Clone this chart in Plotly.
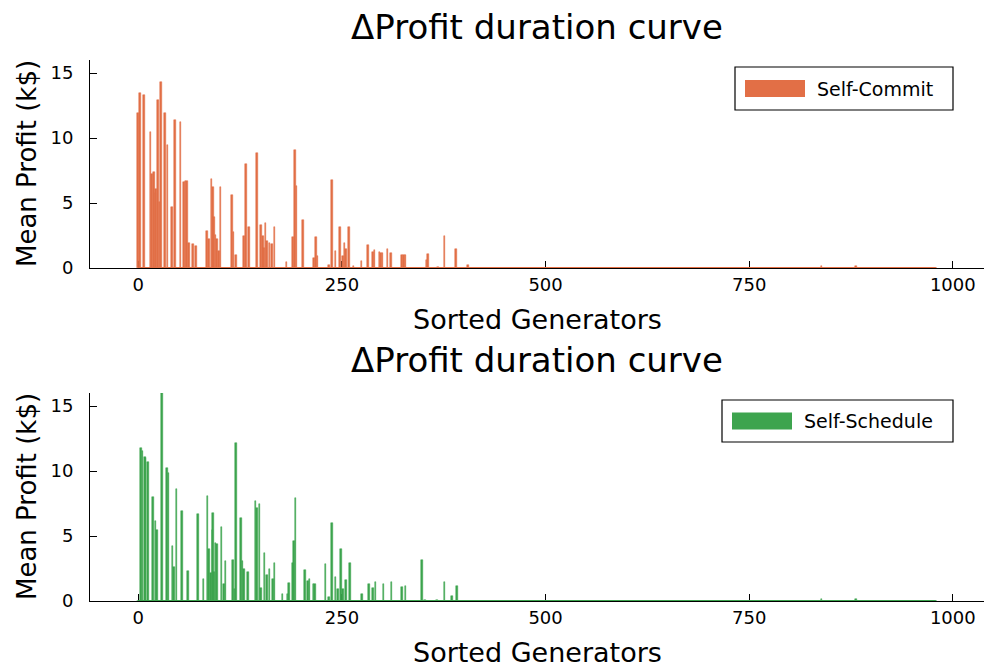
import numpy as np
import plotly.graph_objects as go

N_GEN = 980
generators = np.arange(N_GEN)

commit_idx = [0, 2, 7, 15, 17, 19, 21, 22, 24, 26, 28, 33, 36, 41, 45, 52, 56, 58, 60, 62,
              67, 71, 84, 87, 90, 92, 93, 95, 97, 99, 101, 115, 117, 120, 130, 132, 136, 146,
              151, 153, 154, 156, 158, 161, 164, 167, 182, 190, 192, 194, 202, 216, 218, 220,
              234, 238, 242, 248, 251, 253, 255, 259, 264, 274, 282, 288, 290, 296, 298, 300,
              306, 310, 324, 326, 328, 354, 356, 368, 376, 390, 405, 839, 881]
commit_val = [11.9, 13.5, 13.3, 10.5, 7.2, 7.4, 5.8, 6.1, 12.9, 5.05, 14.3, 11.9, 9.5, 4.67,
              11.4, 11.2, 6.6, 6.7, 6.7, 1.9, 1.86, 1.66, 2.88, 2.25, 6.84, 6.25, 3.9, 2.55,
              2.2, 1.28, 6.25, 5.6, 2.8, 0.97, 2.5, 7.99, 3.19, 8.88, 3.3, 2.5, 1.53, 3.47,
              2.07, 1.91, 1.81, 3.19, 0.44, 2.42, 9.08, 6.33, 3.73, 0.8, 2.37, 0.95, 0.26,
              6.79, 1.33, 3.14, 0.92, 1.94, 1.43, 3.19, 0.18, 0.51, 1.79, 1.23, 1.4, 1.25,
              1.15, 1.18, 1.43, 1.18, 1.02, 1.02, 1.02, 0.59, 1.1, 0.1, 2.43, 1.43, 0.26,
              0.15, 0.15]

schedule_idx = [3, 5, 8, 9, 12, 18, 21, 23, 29, 35, 37, 42, 44, 47, 54, 61, 73, 80, 85, 87,
                89, 91, 92, 93, 95, 97, 102, 105, 107, 116, 118, 120, 126, 128, 130, 135, 144,
                146, 149, 151, 155, 158, 161, 165, 167, 177, 183, 185, 190, 191, 193, 205, 208,
                210, 215, 217, 230, 234, 238, 242, 245, 249, 251, 255, 260, 275, 283, 288, 291,
                301, 311, 324, 328, 348, 352, 367, 376, 385, 391, 839, 881]
schedule_val = [11.76, 11.55, 11.1, 10.97, 10.7, 7.98, 6.12, 5.48, 16.0, 10.2, 9.85, 4.2, 2.6,
                8.62, 6.96, 2.27, 6.7, 1.73, 8.06, 3.98, 2.17, 5.43, 6.79, 2.2, 4.49, 4.41,
                5.69, 1.3, 3.06, 3.16, 0.9, 12.19, 6.35, 3.04, 2.5, 2.22, 7.73, 7.14, 7.47,
                1.0, 3.7, 2.0, 2.45, 1.7, 2.95, 0.55, 0.54, 1.4, 2.93, 4.59, 7.9, 2.42, 1.56,
                1.66, 1.28, 1.28, 2.81, 0.33, 6.02, 1.81, 0.92, 4.03, 0.92, 1.6, 2.95, 0.51,
                1.33, 0.97, 1.45, 1.33, 1.48, 1.04, 1.17, 3.14, 0.08, 0.05, 1.43, 0.38, 1.12,
                0.15, 0.15]

x_ticks = [0, 250, 500, 750, 1000]
y_ticks = [0, 5, 10, 15]
series_names = ["Self-Commit", "Self-Schedule"]
colors = ["#E26F46", "#3DA44E"]
title_text = "ΔProfit duration curve"
x_label = "Sorted Generators"
y_label = "Mean Profit (k$)"

commit = np.zeros(N_GEN)
commit[commit_idx] = commit_val
schedule = np.zeros(N_GEN)
schedule[schedule_idx] = schedule_val

FONT = "DejaVu Sans"
W, H = 984, 667
L = 90
PW = W - L

fig = go.Figure()

panels = [
    dict(vals=commit, name=series_names[0], color=colors[0], xa="x", ya="y",
         top=60, bottom=268, leg=(735, 953, 67, 110)),
    dict(vals=schedule, name=series_names[1], color=colors[1], xa="x2", ya="y2",
         top=393, bottom=601, leg=(722, 953, 400, 442)),
]

for p in panels:
    fig.add_trace(go.Bar(x=generators, y=p["vals"], width=2.0,
                         marker=dict(color=p["color"], line=dict(color=p["color"], width=0.5)),
                         xaxis=p["xa"], yaxis=p["ya"], showlegend=False))
    # zero-valued generators are drawn as a flat line along the baseline in the original
    fig.add_trace(go.Scatter(x=generators, y=np.zeros(N_GEN), mode="lines",
                             line=dict(color=p["color"], width=2), cliponaxis=False,
                             xaxis=p["xa"], yaxis=p["ya"], showlegend=False, hoverinfo="skip"))


def py(v):
    return 1 - v / H


def px(v):
    return (v - L) / PW


axis_common = dict(showgrid=False, zeroline=False, showline=True, linecolor="black", linewidth=1,
                   ticks="inside", ticklen=7, tickcolor="black", tickwidth=1, automargin=False,
                   tickfont=dict(family=FONT, size=18, color="black"), layer="below traces")

fig.update_layout(
    width=W, height=H, plot_bgcolor="white", paper_bgcolor="white",
    margin=dict(l=L, r=0, t=0, b=0), bargap=0, showlegend=False,
    font=dict(family=FONT, color="black"),
    xaxis=dict(domain=[0, 1], range=[-59.3, 1038.3], tickvals=x_ticks, anchor="y", **axis_common),
    yaxis=dict(domain=[py(268), py(60)], range=[0, 16], tickvals=y_ticks, anchor="x",
               ticklabelstandoff=12, **axis_common),
    xaxis2=dict(domain=[0, 1], range=[-59.3, 1038.3], tickvals=x_ticks, anchor="y2", **axis_common),
    yaxis2=dict(domain=[py(601), py(393)], range=[0, 16], tickvals=y_ticks, anchor="x2",
                ticklabelstandoff=12, **axis_common),
)

for p in panels:
    fig.add_annotation(text=title_text, x=0.5, xref="paper", y=py(p["top"] - 33), yref="paper",
                       showarrow=False, xanchor="center", yanchor="middle",
                       font=dict(family=FONT, size=34, color="black"))
    fig.add_annotation(text=x_label, x=0.5, xref="paper", y=py(p["bottom"] + 51), yref="paper",
                       showarrow=False, xanchor="center", yanchor="middle",
                       font=dict(family=FONT, size=27, color="black"))
    fig.add_annotation(text=y_label, x=px(27), xref="paper",
                       y=py((p["top"] + p["bottom"]) / 2), yref="paper",
                       showarrow=False, xanchor="center", yanchor="middle", textangle=-90,
                       font=dict(family=FONT, size=26, color="black"))
    # legend box
    x0, x1, y0, y1 = p["leg"]
    fig.add_shape(type="rect", xref="paper", yref="paper", x0=px(x0), x1=px(x1),
                  y0=py(y1), y1=py(y0), line=dict(color="black", width=1.2), fillcolor="white")
    ym = (y0 + y1) / 2
    fig.add_shape(type="rect", xref="paper", yref="paper", x0=px(x0 + 10), x1=px(x0 + 70),
                  y0=py(ym + 8.5), y1=py(ym - 8.5), line=dict(width=0), fillcolor=p["color"])
    fig.add_annotation(text=p["name"], x=px(x0 + 80), xref="paper", y=py(ym), yref="paper",
                       showarrow=False, xanchor="left", yanchor="middle",
                       font=dict(family=FONT, size=19, color="black"))

fig.write_html("out.html", config={"displayModeBar": False},
               post_script="document.body.style.margin='0';document.body.style.overflow='hidden';")
